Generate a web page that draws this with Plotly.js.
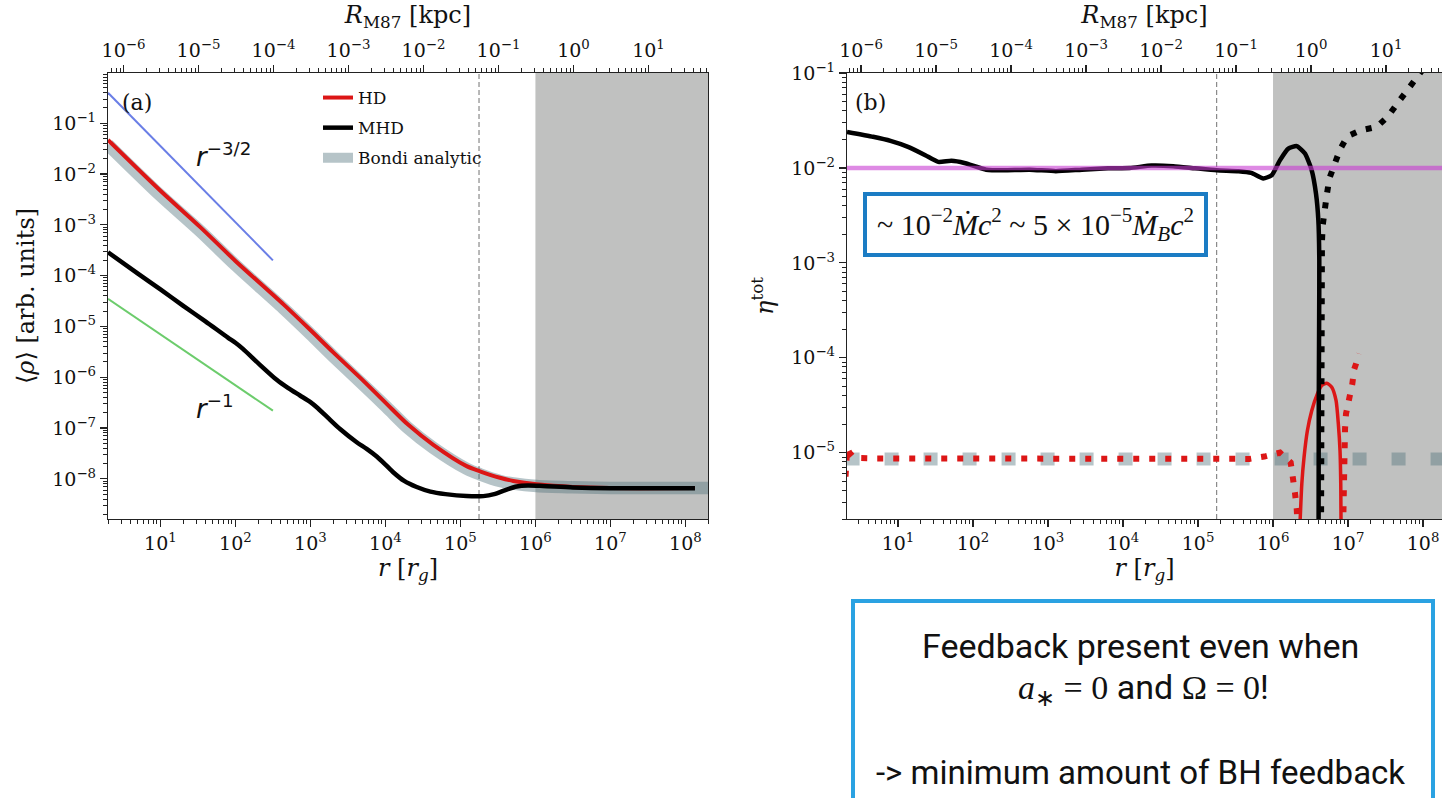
<!DOCTYPE html>
<html><head><meta charset="utf-8">
<script src="https://cdn.plot.ly/plotly-3.0.1.min.js"></script>
<style>html,body{margin:0;padding:0;background:#fff;overflow:hidden}#chart{width:1442px;height:798px}</style>
</head><body><div id="chart"></div>
<script>
// ---------- tick labels ----------
const rgTicks = [1e1, 1e2, 1e3, 1e4, 1e5, 1e6, 1e7, 1e8];
const rgTickText = ['10<sup>1</sup>','10<sup>2</sup>','10<sup>3</sup>','10<sup>4</sup>','10<sup>5</sup>','10<sup>6</sup>','10<sup>7</sup>','10<sup>8</sup>'];
const kpcTicks = [1e-6, 1e-5, 1e-4, 1e-3, 1e-2, 1e-1, 1e0, 1e1];
const kpcTickText = ['10<sup>−6</sup>','10<sup>−5</sup>','10<sup>−4</sup>','10<sup>−3</sup>','10<sup>−2</sup>','10<sup>−1</sup>','10<sup>0</sup>','10<sup>1</sup>'];
const rhoTicks = [1e-8, 1e-7, 1e-6, 1e-5, 1e-4, 1e-3, 1e-2, 1e-1];
const rhoTickText = ['10<sup>−8</sup>','10<sup>−7</sup>','10<sup>−6</sup>','10<sup>−5</sup>','10<sup>−4</sup>','10<sup>−3</sup>','10<sup>−2</sup>','10<sup>−1</sup>'];
const etaTicks = [1e-5, 1e-4, 1e-3, 1e-2, 1e-1];
const etaTickText = ['10<sup>−5</sup>','10<sup>−4</sup>','10<sup>−3</sup>','10<sup>−2</sup>','10<sup>−1</sup>'];

// ---------- axis extents / reference radii ----------
const kpcPerRg = 3.11e-7;
const rMinL = 2, rMaxL = 2e8, rhoMin = 1.62e-9, rhoMax = 0.977;
const rMinR = 2.09, rMaxR = 1.79e8, etaMin = 2.0e-6, etaMax = 0.1002;
const rDashed = 1.77e5;
const rGray = 1e6;

// ---------- panel (a): density ----------
const slope32_r = [2, 316];
const slope32_rho = [0.40, 2.0e-4];
const slope1_r = [2, 316];
const slope1_rho = [3.5e-5, 2.2e-7];

const hd_r   = [2, 10, 33.7, 100, 434, 1000, 2018, 5012, 1.04e4, 2.0e4, 4.35e4, 1.21e5, 1.82e5, 3.37e5, 5.07e5, 1.04e6, 3.16e6, 1e7, 1.34e8];
const hd_rho = [4.68e-2, 4.68e-3, 9.12e-4, 1.95e-4, 2.75e-5, 8.5e-6, 3.09e-6, 8.7e-7, 3.0e-7, 1.17e-7, 4.68e-8, 1.78e-8, 1.41e-8, 1.05e-8, 9.1e-9, 7.8e-9, 6.9e-9, 6.6e-9, 6.6e-9];

const bondi_r   = [2, 10, 33.7, 100, 434, 1000, 2018, 5012, 1.04e4, 2.0e4, 4.35e4, 1.21e5, 1.82e5, 3.37e5, 5.07e5, 1.04e6, 3.16e6, 1e7, 2e8];
const bondi_rho = [3.8e-2, 3.8e-3, 7.6e-4, 1.62e-4, 2.29e-5, 7.1e-6, 2.57e-6, 7.2e-7, 2.57e-7, 1.0e-7, 4.07e-8, 1.58e-8, 1.23e-8, 9.1e-9, 8.1e-9, 7.2e-9, 6.8e-9, 6.6e-9, 6.6e-9];

const mhd_r   = [2, 5.01, 10, 19.95, 39.8, 79.4, 100, 126, 214, 355, 501, 726, 1000, 1213, 1778, 2483, 4140, 5623, 7656, 1e4, 1.27e4, 1.78e4, 2.61e4, 3.98e4, 6.31e4, 1.21e5, 2.02e5, 2.82e5, 3.98e5, 5.62e5, 7.94e5, 1.26e6, 3.16e6, 1e7, 1.34e8];
const mhd_rho = [2.88e-4, 1.10e-4, 5.37e-5, 2.57e-5, 1.26e-5, 6.03e-6, 4.79e-6, 3.63e-6, 1.74e-6, 8.9e-7, 6.17e-7, 4.37e-7, 3.24e-7, 2.57e-7, 1.51e-7, 9.55e-8, 5.25e-8, 3.89e-8, 2.75e-8, 1.91e-8, 1.35e-8, 9.1e-9, 6.9e-9, 5.6e-9, 5.0e-9, 4.57e-9, 4.57e-9, 5.0e-9, 6.03e-9, 7.08e-9, 7.41e-9, 7.24e-9, 6.76e-9, 6.5e-9, 6.5e-9];

// ---------- panel (b): efficiency ----------
const mhdEta_r = [2.09, 4.65, 7.94, 13.6, 23.1, 34.4, 51.5, 76.7, 150, 256, 570, 1270, 2831, 6310, 1.23e4, 2.4e4, 4.68e4, 9.12e4, 1.78e5, 3.47e5, 5.13e5, 7.41e5, 9.6e5, 1.24e6, 1.6e6, 2.07e6, 2.67e6, 3.28e6, 3.74e6, 4.02e6, 4.14e6, 4.12e6, 4.07e6, 4.05e6];
const mhdEta   = [0.024, 0.0213, 0.0193, 0.0167, 0.01365, 0.0116, 0.0119, 0.0113, 0.0096, 0.00946, 0.0096, 0.00925, 0.0096, 0.00993, 0.0100, 0.0106, 0.01045, 0.00993, 0.00946, 0.00925, 0.00887, 0.00776, 0.00838, 0.0121, 0.0160, 0.0170, 0.0142, 0.00946, 0.00537, 0.00282, 0.00107, 2.5e-4, 3.2e-5, 1.6e-6];

const mhdEtaDot_r = [4.37e6, 4.37e6, 4.37e6, 4.42e6, 4.49e6, 4.6e6, 4.83e6, 5.2e6, 5.64e6, 6.5e6, 7.82e6, 9.8e6, 1.52e7, 2.42e7, 3.44e7, 4.55e7, 6.07e7, 8.0e7, 1.0e8];
const mhdEtaDot   = [1.6e-6, 1e-4, 6.3e-4, 1.15e-3, 1.66e-3, 2.5e-3, 3.58e-3, 5.15e-3, 7.76e-3, 0.01086, 0.01567, 0.0216, 0.0251, 0.0271, 0.0352, 0.0479, 0.0646, 0.0879, 0.11];

const hdEta_r = [2.29e6, 2.42e6, 2.59e6, 2.87e6, 3.28e6, 3.9e6, 4.46e6, 5.2e6, 6.07e6, 6.92e6, 7.43e6, 7.82e6, 8.0e6, 8.07e6];
const hdEta   = [1.78e-6, 4.7e-6, 8.9e-6, 1.7e-5, 2.77e-5, 4.17e-5, 5.1e-5, 5.4e-5, 4.9e-5, 3.55e-5, 2.0e-5, 1.05e-5, 4.7e-6, 1.78e-6];

const hdEtaDot_r = [2.0, 2.04, 2.1, 2.25, 2.6, 5, 10, 100, 1e3, 1e4, 1e5, 2.96e5, 4.83e5, 7.66e5, 1.24e6, 1.72e6, 1.87e6, 1.96e6, 2.07e6, 2.14e6, null, 8.6e6, 8.65e6, 8.85e6, 8.93e6, 9.12e6, 9.4e6, 1.04e7, 1.14e7, 1.21e7, 1.42e7];
const hdEtaDot   = [5.6e-6, 1.1e-5, 1.12e-5, 1.0e-5, 8.8e-6, 8.7e-6, 8.7e-6, 8.7e-6, 8.7e-6, 8.7e-6, 8.7e-6, 8.7e-6, 8.6e-6, 9.1e-6, 1.0e-5, 7.9e-6, 5.5e-6, 3.8e-6, 2.55e-6, 1.6e-6, null, 1.6e-6, 2.55e-6, 5.5e-6, 1.24e-5, 1.78e-5, 2.57e-5, 3.69e-5, 5.3e-5, 7.6e-5, 1.1e-4];

const bondiEta_r = [2, 2e8];
const bondiEta   = [8.6e-6, 8.6e-6];
const refEta_r = [2, 2e8];
const refEta   = [1e-2, 1e-2];

// ---------- styling ----------
const W = 1442, H = 798;
const serif = 'DejaVu Serif';
const red = '#dc1616';
const bandColor = 'rgba(80,115,125,0.42)';
const L = Math.log10;
const px = v => v / W, py = v => 1 - v / H;

const traces = [
  {x: bondi_r, y: bondi_rho, xaxis:'x', yaxis:'y', mode:'lines', name:'Bondi analytic', legendrank: 3, legendgroup:'c',
   line:{color: bandColor, width: 12.5, shape:'spline', smoothing:0.8}},
  {x: slope32_r, y: slope32_rho, xaxis:'x', yaxis:'y', mode:'lines', showlegend:false, line:{color:'#6a7ee6', width:2}},
  {x: slope1_r, y: slope1_rho, xaxis:'x', yaxis:'y', mode:'lines', showlegend:false, line:{color:'#6ccc6c', width:2}},
  {x: hd_r, y: hd_rho, xaxis:'x', yaxis:'y', mode:'lines', name:'HD', legendrank: 1, legendgroup:'a',
   line:{color: red, width: 4, shape:'spline', smoothing:0.8}},
  {x: mhd_r, y: mhd_rho, xaxis:'x', yaxis:'y', mode:'lines', name:'MHD', legendrank: 2, legendgroup:'b',
   line:{color:'#000', width: 4.5, shape:'spline', smoothing:0.7}},
  {x: [], y: [], xaxis:'x3', yaxis:'y', showlegend:false, hoverinfo:'skip'},

  {x: bondiEta_r, y: bondiEta, xaxis:'x2', yaxis:'y2', mode:'lines', showlegend:false,
   line:{color: bandColor, width: 13, dash:'14px,25px'}},
  {x: hdEtaDot_r, y: hdEtaDot, xaxis:'x2', yaxis:'y2', mode:'lines', showlegend:false, connectgaps:false,
   line:{color: red, width: 6, dash:'6px,10px'}},
  {x: hdEta_r, y: hdEta, xaxis:'x2', yaxis:'y2', mode:'lines', showlegend:false,
   line:{color: red, width: 3.5, shape:'spline', smoothing:0.6}},
  {x: mhdEta_r, y: mhdEta, xaxis:'x2', yaxis:'y2', mode:'lines', showlegend:false,
   line:{color:'#000', width: 4.5, shape:'spline', smoothing:0.5}},
  {x: mhdEtaDot_r, y: mhdEtaDot, xaxis:'x2', yaxis:'y2', mode:'lines', showlegend:false,
   line:{color:'#000', width: 6, dash:'6px,10px'}},
  {x: refEta_r, y: refEta, xaxis:'x2', yaxis:'y2', mode:'lines', showlegend:false,
   line:{color:'rgba(200,60,210,0.6)', width: 4.5}},
  {x: [], y: [], xaxis:'x4', yaxis:'y2', showlegend:false, hoverinfo:'skip'}
];

const tickFont = {family: serif, size: 19, color:'#111'};
const titleFont = {family: serif, size: 24, color:'#111'};
const minorLog = {ticks:'outside', ticklen:4, tickwidth:1, tickcolor:'#222', dtick:'D1', showgrid:false};
function logAxis(o) {
  return Object.assign({type:'log', showgrid:false, zeroline:false, showline:true, linecolor:'#222', linewidth:1.2,
    ticks:'outside', ticklen:7, tickwidth:1.2, tickcolor:'#222', tickmode:'array', tickfont: tickFont,
    minor: minorLog, automargin:false}, o);
}
const domL = [108/W, 708/W], domR = [847/W, 1];
const domY = [1 - 519/H, 1 - 73/H];
const ann = (x, y, text, font, extra) => Object.assign({xref:'paper', yref:'paper', x: px(x), y: py(y), xanchor:'center', yanchor:'middle', text, showarrow:false, font}, extra || {});

const layout = {
  width: W, height: H, margin:{l:0, r:0, t:0, b:0},
  paper_bgcolor:'#fff', plot_bgcolor:'#fff',
  font:{family: serif, color:'#111'},
  showlegend: true,
  legend:{x: 318/W, y: 1 - 80/H, xanchor:'left', yanchor:'top', bgcolor:'rgba(0,0,0,0)',
    font:{family: serif, size: 17, color:'#111'}, tracegroupgap: 5, itemwidth: 30},
  xaxis: logAxis({domain: domL, anchor:'y', range:[L(rMinL), L(rMaxL)], tickvals: rgTicks, ticktext: rgTickText, mirror:true,
    title:{text:'<i>r</i> [<i>r</i><sub><i>g</i></sub>]', font: titleFont, standoff: 0}}),
  yaxis: logAxis({domain: domY, anchor:'x', range:[L(rhoMin), L(rhoMax)], tickvals: rhoTicks, ticktext: rhoTickText, mirror:true,
    title:{text:'⟨<i>ρ</i>⟩ [arb. units]', font: titleFont, standoff: 10}}),
  xaxis3: logAxis({overlaying:'x', side:'top', anchor:'y', range:[L(rMinL*kpcPerRg), L(rMaxL*kpcPerRg)], tickvals: kpcTicks, ticktext: kpcTickText,
    title:{text:'<i>R</i><sub>M87</sub> [kpc]', font: titleFont, standoff: 6}}),
  xaxis2: logAxis({domain: domR, anchor:'y2', range:[L(rMinR), L(rMaxR)], tickvals: rgTicks, ticktext: rgTickText, mirror:true,
    title:{text:'<i>r</i> [<i>r</i><sub><i>g</i></sub>]', font: titleFont, standoff: 0}}),
  yaxis2: logAxis({domain: domY, anchor:'x2', range:[L(etaMin), L(etaMax)], tickvals: etaTicks, ticktext: etaTickText,
    title:{text:'<i>η</i><sup>tot</sup>', font: titleFont, standoff: 10}}),
  xaxis4: logAxis({overlaying:'x2', side:'top', anchor:'y2', range:[L(rMinR*kpcPerRg), L(rMaxR*kpcPerRg)], tickvals: kpcTicks, ticktext: kpcTickText,
    title:{text:'<i>R</i><sub>M87</sub> [kpc]', font: titleFont, standoff: 6}}),
  shapes: [
    {type:'rect', xref:'x', yref:'y domain', x0: rGray, x1: rMaxL, y0:0, y1:1, fillcolor:'#c0c1c0', line:{width:0}, layer:'below'},
    {type:'rect', xref:'x2', yref:'y2 domain', x0: rGray, x1: rMaxR, y0:0, y1:1, fillcolor:'#c0c1c0', line:{width:0}, layer:'below'},
    {type:'line', xref:'x', yref:'y domain', x0: rDashed, x1: rDashed, y0:0, y1:1, line:{color:'#8a8a8a', width:1.2, dash:'5px,3px'}, layer:'below'},
    {type:'line', xref:'x2', yref:'y2 domain', x0: rDashed, x1: rDashed, y0:0, y1:1, line:{color:'#8a8a8a', width:1.2, dash:'5px,3px'}, layer:'below'},
    {type:'rect', xref:'paper', yref:'paper', x0: px(853), x1: px(1433), y0: py(812), y1: py(601), line:{color:'#2aa2e2', width:4}, fillcolor:'rgba(0,0,0,0)'}
  ],
  annotations: [
    ann(137, 102, '(a)', {family: serif, size: 22, color:'#111'}),
    ann(871, 102, '(b)', {family: serif, size: 22, color:'#111'}),
    ann(224, 155, '<i>r</i><sup>−3/2</sup>', {family:'DejaVu Sans', size: 26, color:'#111'}),
    ann(215, 407, '<i>r</i><sup>−1</sup>', {family:'DejaVu Sans', size: 26, color:'#111'}),
    ann(1035.5, 224.5, '~ 10<sup>−2</sup><i>Ṁc</i><sup>2</sup> ~ 5 × 10<sup>−5</sup><i>Ṁ</i><sub><i>B</i></sub><i>c</i><sup>2</sup>',
      {family:'Liberation Serif, DejaVu Serif', size: 30, color:'#111'},
      {width: 337, height: 57, borderpad: 0, borderwidth: 4, bordercolor:'#1b7cc4', bgcolor:'#fff'}),
    ann(1140, 646, 'Feedback present even when', {family:'Roboto', size: 34, color:'#111'}),
    ann(1143, 689, '<span style="font-family:Liberation Serif;font-style:italic">a</span><sub>∗</sub><span style="font-family:Liberation Serif"> = 0 </span>and<span style="font-family:Liberation Serif"> Ω = 0</span>!',
      {family:'Roboto', size: 34, color:'#111'}),
    ann(1140, 772, '-> minimum amount of BH feedback', {family:'Roboto', size: 33, color:'#111'})
  ]
};

Plotly.newPlot('chart', traces, layout, {staticPlot:true, displayModeBar:false});
</script></body></html>
